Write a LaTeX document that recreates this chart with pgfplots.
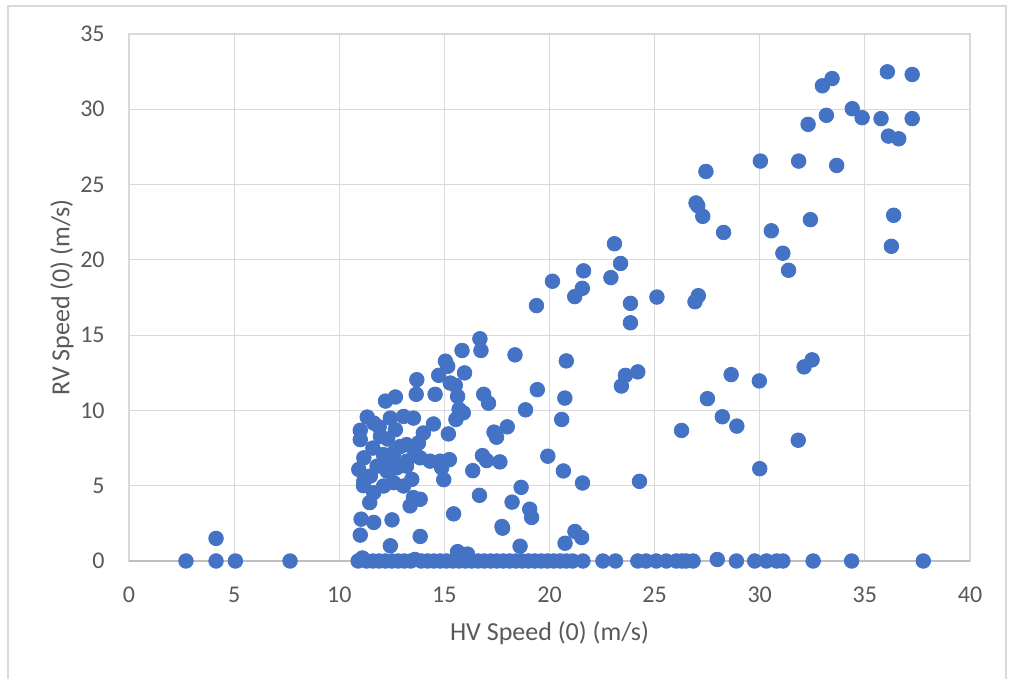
\documentclass[border=0pt]{standalone}
\usepackage{fontspec}
\setmainfont{Carlito}
\usepackage{pgfplots}
\pgfplotsset{compat=1.18}

\definecolor{dotblue}{HTML}{4472C4}
\definecolor{gridgray}{HTML}{D9D9D9}
\definecolor{axisgray}{HTML}{BFBFBF}
\definecolor{textgray}{HTML}{595959}

\begin{document}
\begin{tikzpicture}
  % page size: 1 px of the reference = 0.5pt, axis box lower left at (0,0)
  \useasboundingbox (-64.5pt,-59pt) rectangle (442pt,280.5pt);
  \draw[gridgray, line width=0.6pt] (-60.5pt,-70pt) -- (-60.5pt,277.5pt)
    -- (438.5pt,277.5pt) -- (438.5pt,-70pt);

  \begin{axis}[
    scale only axis,
    width=420.5pt, height=263.5pt,
    xmin=0, xmax=40, ymin=0, ymax=35,
    xtick={0,5,...,40}, ytick={0,5,...,35},
    grid=major,
    major grid style={gridgray, line width=0.6pt},
    axis line style={gridgray, line width=0.6pt},
    major tick length=0pt,
    clip=false,
    tick label style={font=\fontsize{12}{14}\selectfont, text=textgray,
      /pgf/number format/assume math mode=true},
    xticklabel style={anchor=north, inner sep=0pt, yshift=-13pt},
    yticklabel style={anchor=east, inner sep=0pt, xshift=-12pt},
    xlabel={HV Speed (0) (m/s)},
    ylabel={RV Speed (0) (m/s)},
    label style={font=\fontsize{13}{15}\selectfont, text=textgray},
    xlabel style={at={([yshift=-36pt]axis description cs:0.5,0)}, anchor=center},
    ylabel style={at={([xshift=-33.5pt]axis description cs:0,0.5)}, anchor=center},
  ]

  \draw[axisgray, line width=0.6pt] (axis cs:0,0) -- (axis cs:40,0);

  \addplot[only marks, mark=*, mark size=3.65pt,
    mark options={fill=dotblue, draw=dotblue}] coordinates {
    % upper right
    (36.07,32.49) (37.25,32.31) (33.44,32.04) (32.98,31.56) (34.40,30.04)
    (34.87,29.44) (33.17,29.60) (32.30,29.00) (35.77,29.38) (37.25,29.38)
    (36.12,28.22) (36.61,28.04) (30.03,26.56) (31.85,26.56) (33.66,26.27)
    (27.44,25.87) (26.97,23.78) (27.05,23.60) (27.29,22.89) (28.28,21.82)
    (30.55,21.93) (32.41,22.67) (36.37,22.96) (31.10,20.44) (36.26,20.90)
    % middle right
    (23.09,21.07) (23.38,19.76) (22.92,18.82) (23.85,17.11) (23.85,15.82)
    (25.11,17.53) (27.08,17.62) (26.92,17.22) (31.37,19.31)
    (23.61,12.33) (24.20,12.56) (23.42,11.62) (28.64,12.38) (29.98,11.96)
    (32.49,13.36) (32.11,12.89) (27.51,10.78) (28.22,9.58) (28.91,8.96)
    (26.28,8.67) (31.83,8.02) (30.00,6.13) (24.28,5.29)
    % middle
    (21.62,19.27) (20.14,18.58) (21.56,18.11) (21.20,17.56) (19.38,16.96)
    (16.69,14.76) (16.74,13.98) (15.84,13.98) (18.36,13.69) (20.80,13.29)
    (15.05,13.27) (15.16,12.93) (15.96,12.49) (15.28,11.82) (15.52,11.67)
    (19.42,11.38) (15.63,10.93) (16.87,11.07) (17.10,10.48) (20.73,10.82)
    (14.73,12.33) (13.69,12.04) (13.66,11.07) (14.56,11.07) (12.67,10.89)
    (12.20,10.62) (11.33,9.56) (14.48,9.10) (18.86,10.04)
    (20.58,9.40) (15.70,10.07) (15.90,9.84) (15.55,9.40) (15.19,8.44)
    (17.99,8.91) (17.36,8.56) (17.48,8.22) (19.92,6.96) (16.81,7.00)
    (17.01,6.67) (17.64,6.58) (16.35,6.00) (15.24,6.73) (14.97,5.40)
    (20.66,5.98) (21.57,5.18) (18.65,4.89) (16.67,4.36) (18.22,3.91)
    (19.06,3.44) (19.15,2.89) (15.44,3.13) (17.77,2.18) (21.21,1.96)
    (21.53,1.56) (20.74,1.18) (18.60,0.98) (15.63,0.62) (16.10,0.46)
    % cluster
    (11.00,8.68) (11.64,9.16) (12.43,9.49) (13.06,9.60) (13.53,9.49)
    (12.67,8.72) (14.00,8.50) (11.00,8.06) (11.96,8.28) (13.20,7.73)
    (13.77,7.84) (11.17,6.85) (12.10,7.07) (12.40,6.63) (12.98,6.41)
    (13.20,6.63) (13.85,6.85) (14.32,6.63) (14.80,6.63) (14.87,6.19)
    (10.93,6.08) (11.17,5.31) (11.48,5.64) (12.27,5.97) (12.74,6.19)
    (13.20,6.30) (13.45,5.42) (12.11,4.98) (11.64,4.54) (11.45,3.88)
    (12.59,5.20) (13.06,4.98) (13.53,4.21) (13.85,4.10) (13.37,3.66)
    (11.04,2.78) (11.64,2.56) (12.51,2.73) (11.00,1.72) (13.85,1.63)
    (12.43,1.01) (17.74,2.29) (11.15,5.00) (11.90,8.90) (12.30,8.10)
    (11.60,7.50) (12.90,7.60) (12.60,7.20) (11.80,6.30) (13.60,7.20)
    (4.14,1.50)
    % zero row
    (2.71,0) (4.14,0) (5.06,0) (7.66,0) (10.90,0) (11.10,0.2) (11.30,0)
    (11.60,0) (11.90,0) (12.20,0) (12.50,0) (12.80,0) (13.10,0) (13.40,0)
    (13.60,0.1) (13.90,0) (14.20,0) (14.50,0) (14.80,0) (15.10,0) (15.40,0)
    (15.70,0) (16.00,0) (16.30,0) (16.60,0) (16.90,0) (17.20,0) (17.50,0)
    (17.80,0) (18.10,0) (18.40,0) (18.70,0) (19.00,0) (19.30,0) (19.60,0)
    (19.90,0) (20.20,0) (20.50,0) (20.80,0) (21.10,0) (21.59,0) (22.54,0)
    (23.14,0) (24.20,0) (24.60,0) (25.08,0) (25.56,0) (26.03,0) (26.30,0)
    (26.50,0) (26.83,0) (27.98,0.1) (28.89,0) (29.76,0) (30.32,0) (30.80,0)
    (31.10,0) (32.54,0) (34.37,0) (37.78,0)
  };

  \end{axis}
\end{tikzpicture}
\end{document}
